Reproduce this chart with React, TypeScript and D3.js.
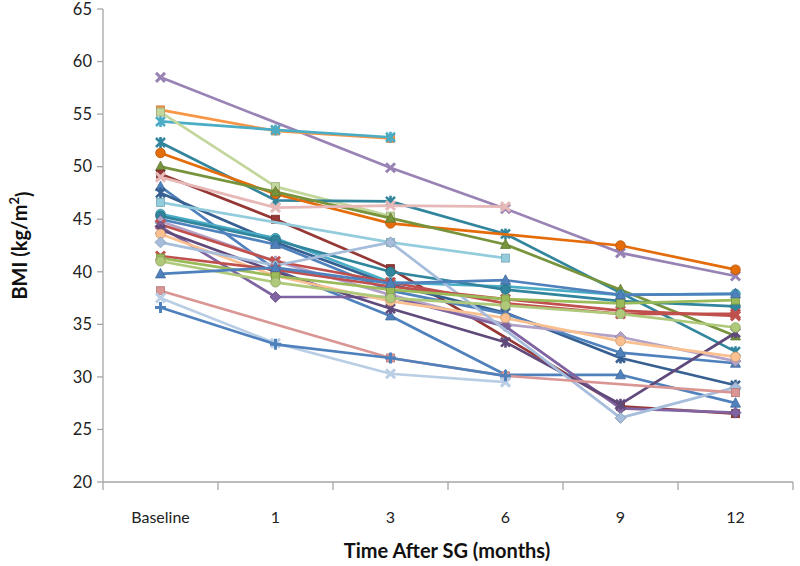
import * as React from 'react'
import * as d3 from 'd3'

const categories = ['Baseline', '1', '3', '6', '9', '12']
const yTicks = [20, 25, 30, 35, 40, 45, 50, 55, 60, 65]

// one row per patient: BMI at baseline, 1, 3, 6, 9 and 12 months (null = not measured)
const seriesValues: (number | null)[][] = [
    [58.5, null, 49.9, 46.0, 41.8, 39.6],
    [55.4, 53.4, 52.7, null, null, null],
    [54.3, 53.5, 52.8, null, null, null],
    [55.2, 48.1, 45.3, null, null, null],
    [52.3, 46.8, 46.7, 43.6, null, 32.4],
    [51.3, 47.4, 44.6, null, 42.5, 40.2],
    [50.0, 47.6, 45.1, 42.6, 38.3, 33.9],
    [49.3, 45.0, 40.3, null, 27.2, 26.5],
    [49.0, 46.1, 46.3, 46.2, null, null],
    [48.1, 40.2, 35.8, 30.2, 30.2, 27.5],
    [47.5, 42.8, 38.8, 36.1, 31.8, 29.2],
    [46.6, null, 42.8, 41.3, null, null],
    [45.5, 43.2, 39.0, 38.6, 37.8, 37.9],
    [45.3, 43.0, 40.0, 38.3, 37.2, 36.7],
    [45.0, 42.6, 38.2, 36.0, 32.3, 31.3],
    [44.8, 41.0, 37.8, 35.0, 33.8, 31.5],
    [44.5, 41.0, 39.0, 37.0, 36.0, 36.0],
    [44.3, 37.6, 37.6, 34.8, 27.0, 26.6],
    [44.0, 40.0, 36.5, 33.3, 27.4, 34.2],
    [43.6, 39.6, 37.2, 35.6, 33.4, 31.9],
    [42.8, 40.6, 42.8, null, 26.1, 29.0],
    [41.5, 40.2, 38.6, 37.4, 36.3, 35.8],
    [41.3, 39.6, 38.3, 37.4, 37.0, 37.3],
    [41.0, 39.0, 37.5, 36.8, 36.0, 34.7],
    [39.8, 40.4, 38.9, 39.2, 37.8, 37.9],
    [38.2, null, 31.8, 30.1, null, 28.5],
    [37.5, 33.2, 30.3, 29.5, null, null],
    [36.6, 33.1, 31.8, 30.1, null, null],
]

const seriesColors = [
    '#9983B5', '#F79646', '#4BACC6', '#C3D69B', '#31859C', '#E46C0A', '#77933C',
    '#953735', '#E6B9B8', '#4F81BD', '#376092', '#93CDDD', '#4BACC6', '#31859C',
    '#4F81BD', '#B3A2C7', '#C0504D', '#8064A2', '#604A7B', '#FAC090', '#A6BDDB',
    '#C0504D', '#9BBB59', '#AFC97A', '#4F81BD', '#D99694', '#B9CDE5', '#4F81BD',
]

const seriesMarkers = [
    'x', 'square', 'star', 'square', 'star', 'circle', 'triangle',
    'square', 'x', 'triangle', 'star', 'square', 'circle', 'circle',
    'triangle', 'diamond', 'x', 'diamond', 'star', 'circle', 'diamond',
    'x', 'square', 'circle', 'triangle', 'square', 'x', 'plus',
]

const plot = { left: 103, right: 793, top: 9, bottom: 482 }

function Marker({ type, cx, cy, color }: { type: string, cx: number, cy: number, color: string }) {
    const edge = d3.color(color)!.darker(0.6).formatHex()
    if (type === 'square')
        return <rect x={cx - 4} y={cy - 4} width={8} height={8} fill={color} stroke={edge} strokeWidth={0.8} />
    if (type === 'circle')
        return <circle cx={cx} cy={cy} r={4.8} fill={color} stroke={edge} strokeWidth={0.8} />
    if (type === 'diamond')
        return <path d={`M${cx},${cy - 5.5}L${cx + 5.5},${cy}L${cx},${cy + 5.5}L${cx - 5.5},${cy}Z`} fill={color} stroke={edge} strokeWidth={0.8} />
    if (type === 'triangle')
        return <path d={`M${cx},${cy - 5.5}L${cx + 5},${cy + 4}L${cx - 5},${cy + 4}Z`} fill={color} stroke={edge} strokeWidth={0.8} />
    const r = 4.5
    const xPath = `M${cx - r},${cy - r}L${cx + r},${cy + r}M${cx - r},${cy + r}L${cx + r},${cy - r}`
    if (type === 'x')
        return <path d={xPath} stroke={color} strokeWidth={3} />
    if (type === 'star')
        return <path d={`${xPath}M${cx},${cy - r - 1}L${cx},${cy + r + 1}`} stroke={color} strokeWidth={2.6} />
    return <path d={`M${cx - r - 1},${cy}L${cx + r + 1},${cy}M${cx},${cy - r - 1}L${cx},${cy + r + 1}`} stroke={color} strokeWidth={3} />
}

export default function App() {
    const x = d3.scaleBand().domain(categories).range([plot.left, plot.right])
    const y = d3.scaleLinear().domain([20, 65]).range([plot.bottom, plot.top])
    const cx = (c: string) => (x(c) as number) + x.bandwidth() / 2

    const line = d3.line<[string, number]>()
        .x(d => cx(d[0]))
        .y(d => y(d[1]))

    const font = 'Lato, "Open Sans", sans-serif'
    const boundaries = categories.map(c => x(c) as number).concat([plot.right])

    return (
        <div style={{ position: 'absolute', left: 0, top: 0 }}>
            <svg width={800} height={566} style={{ display: 'block', background: '#fff' }}>
                {/* y axis */}
                <line x1={plot.left} x2={plot.left} y1={plot.top} y2={plot.bottom} stroke="#A6A6A6" strokeWidth={1.3} />
                {yTicks.map(t => (
                    <g key={t}>
                        <line x1={plot.left - 6} x2={plot.left} y1={y(t)} y2={y(t)} stroke="#A6A6A6" strokeWidth={1.3} />
                        <text x={plot.left - 11} y={y(t)} dy="0.35em" textAnchor="end" fontFamily={font} fontSize={16.5} fill="#222">{t}</text>
                    </g>
                ))}

                {/* x axis */}
                <line x1={plot.left} x2={plot.right} y1={plot.bottom} y2={plot.bottom} stroke="#A6A6A6" strokeWidth={1.3} />
                {boundaries.map((b, i) => (
                    <line key={i} x1={b} x2={b} y1={plot.bottom} y2={plot.bottom + 8} stroke="#A6A6A6" strokeWidth={1.3} />
                ))}
                {categories.map(c => (
                    <text key={c} x={cx(c)} y={517} dy="0.35em" textAnchor="middle" fontFamily={font} fontSize={16} fill="#222">{c}</text>
                ))}

                {/* series */}
                {seriesValues.map((vals, i) => {
                    const pts = categories
                        .map((c, j) => [c, vals[j]] as [string, number | null])
                        .filter(d => d[1] !== null) as [string, number][]
                    return (
                        <g key={i}>
                            <path d={line(pts) || ''} fill="none" stroke={seriesColors[i]} strokeWidth={2.7} strokeLinejoin="round" strokeLinecap="round" />
                            {pts.map((p, j) => (
                                <Marker key={j} type={seriesMarkers[i]} cx={cx(p[0])} cy={y(p[1])} color={seriesColors[i]} />
                            ))}
                        </g>
                    )
                })}

                {/* titles */}
                <text x={447} y={551} dy="0.35em" textAnchor="middle" fontFamily={font} fontSize={20} fontWeight="bold" fill="#111">Time After SG (months)</text>
                <text transform={`translate(20,${(plot.top + plot.bottom) / 2}) rotate(-90)`} textAnchor="middle" dy="0.35em" fontFamily={font} fontSize={20} fontWeight="bold" fill="#111">
                    BMI (kg/m<tspan fontSize={13} dy="-0.6em">2</tspan><tspan dy="0.6em">)</tspan>
                </text>
            </svg>
        </div>
    )
}
